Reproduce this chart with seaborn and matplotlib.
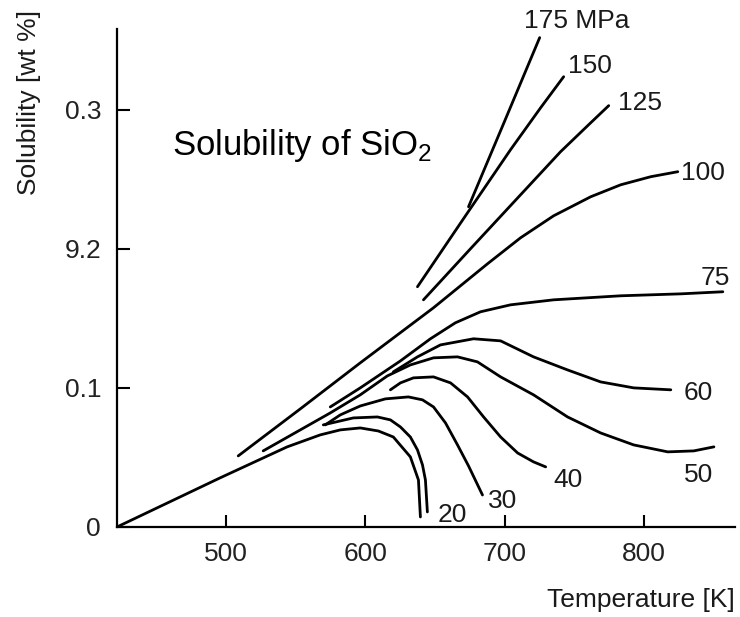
import pandas as pd
import matplotlib
matplotlib.use('Agg')
from matplotlib import pyplot as plt
import seaborn as sns

# isobars: temperature [K] / solubility [wt %]
t_20a = [422, 495.9, 544.0, 567.7, 582.1, 596.4, 609.4, 620.1, 632.3, 638.1, 639.5]
s_20a = [0.0, 0.0353, 0.0576, 0.0662, 0.0698, 0.0712, 0.0690, 0.0647, 0.0504, 0.0338, 0.0072]

t_20b = [569.9, 591.4, 608.7, 618.0, 625.2, 632.3, 637.4, 641.0, 643.1, 644.5]
s_20b = [0.0734, 0.0784, 0.0791, 0.0770, 0.0719, 0.0647, 0.0554, 0.0446, 0.0338, 0.0108]

t_30 = [571.3, 582.1, 596.4, 614.4, 630.9, 641.0, 648.9, 657.5, 666.1, 674.0, 684.0]
s_30 = [0.0734, 0.0806, 0.0870, 0.0921, 0.0935, 0.0914, 0.0863, 0.0748, 0.0590, 0.0439, 0.0230]

t_40 = [618.0, 625.2, 634.5, 648.9, 661.1, 673.3, 684.8, 697.0, 709.2, 720.6, 729.3]
s_40 = [0.0986, 0.1036, 0.1072, 0.1079, 0.1036, 0.0935, 0.0791, 0.0647, 0.0532, 0.0468, 0.0432]

t_50 = [526.8, 553.4, 574.9, 596.4, 615.8, 632.3, 648.9, 666.1, 680.4, 697.0, 720.6,
        745.0, 768.7, 792.4, 816.8, 835.5, 849.9]
s_50 = [0.0547, 0.0698, 0.0820, 0.0950, 0.1086, 0.1165, 0.1216, 0.1223, 0.1187, 0.1079, 0.0950,
        0.0791, 0.0676, 0.0590, 0.0540, 0.0547, 0.0576]

t_60 = [620.1, 637.4, 653.9, 677.6, 697.0, 720.6, 745.0, 768.7, 792.4, 819.0]
s_60 = [0.1115, 0.1223, 0.1309, 0.1353, 0.1338, 0.1223, 0.1129, 0.1043, 0.1000, 0.0986]

t_75 = [574.9, 596.4, 625.2, 646.7, 664.6, 682.6, 704.1, 735.0, 783.1, 826.2, 856.3]
s_75 = [0.0863, 0.1000, 0.1194, 0.1353, 0.1468, 0.1547, 0.1597, 0.1633, 0.1662, 0.1676, 0.1691]

t_100 = [508.9, 553.4, 596.4, 648.9, 687.6, 711.3, 735.0, 761.6, 783.1, 804.6, 824.0]
s_100 = [0.0511, 0.0849, 0.1180, 0.1576, 0.1892, 0.2079, 0.2237, 0.2374, 0.2460, 0.2518, 0.2554]

t_125 = [641.7, 675.4, 711.3, 740.0, 761.6, 774.5]
s_125 = [0.1633, 0.2000, 0.2388, 0.2698, 0.2906, 0.3029]

t_150 = [637.4, 671.8, 704.1, 725.7, 742.2]
s_150 = [0.1727, 0.2237, 0.2712, 0.3014, 0.3237]

t_175 = [674.0, 699.1, 725.0]
s_175 = [0.2302, 0.2899, 0.3518]

# curve labels (text, left x, baseline y)
label_text = ['175 MPa', '150', '125', '100', '75', '60', '50', '40', '30', '20']
label_t = [713.5, 745.1, 781.0, 826.2, 840.5, 828.3, 828.3, 735.0, 688.3, 651.7]
label_s = [0.3590, 0.3266, 0.3000, 0.2496, 0.1741, 0.0914, 0.0324, 0.0288, 0.0137, 0.0036]

x_ticks = [500, 600, 700, 800]
y_ticks = [0, 0.1, 0.2, 0.3]
y_tick_labels = ['0', '0.1', '9.2', '0.3']

curves = {
    '20a': (t_20a, s_20a), '20b': (t_20b, s_20b), '30': (t_30, s_30),
    '40': (t_40, s_40), '50': (t_50, s_50), '60': (t_60, s_60),
    '75': (t_75, s_75), '100': (t_100, s_100), '125': (t_125, s_125),
    '150': (t_150, s_150), '175': (t_175, s_175),
}
rows = []
for name, (t, s) in curves.items():
    for i, (ti, si) in enumerate(zip(t, s)):
        rows.append({'isobar': name, 'order': i, 'T': ti, 'S': si})
df = pd.DataFrame(rows)

sns.set_theme(style='ticks')
plt.rcParams['font.family'] = ['Liberation Sans', 'DejaVu Sans']
plt.rcParams['text.color'] = '#1a1a1a'
plt.rcParams['axes.labelcolor'] = '#1a1a1a'

fig = plt.figure(figsize=(7.4, 6.17), dpi=100)
ax = fig.add_axes([0.1581, 0.1459, 0.8351, 0.8071])

sns.lineplot(data=df, x='T', y='S', units='isobar', estimator=None, sort=False,
             color='black', linewidth=2.0, legend=False, ax=ax)

ax.set_xlim(422, 865)
ax.set_ylim(0, 0.358)
ax.set_xticks(x_ticks)
ax.set_yticks(y_ticks)
ax.set_yticklabels(y_tick_labels)
sns.despine(ax=ax)
for side in ['left', 'bottom']:
    ax.spines[side].set_linewidth(1.6)
    ax.spines[side].set_color('black')
ax.tick_params(axis='both', direction='in', length=9, width=1.5, colors='black',
               labelcolor='#222222', labelsize=19)
ax.tick_params(axis='x', pad=11)
ax.tick_params(axis='y', pad=11.5)

ax.set_xlabel('Temperature [K]', fontsize=19, loc='right')
ax.xaxis.set_label_coords(1.0, -0.1225)
ax.set_ylabel('Solubility [wt %]', fontsize=19, loc='top')
ax.yaxis.set_label_coords(-0.123, 1.038)

ax.text(461.5, 0.2676, r'Solubility of SiO$_\mathregular{2}$', fontsize=25,
        ha='left', va='baseline', color='black')

for txt, t, s in zip(label_text, label_t, label_s):
    ax.text(t, s, txt, fontsize=19, ha='left', va='baseline', color='#1a1a1a')

fig.savefig('out.png', dpi=100)
